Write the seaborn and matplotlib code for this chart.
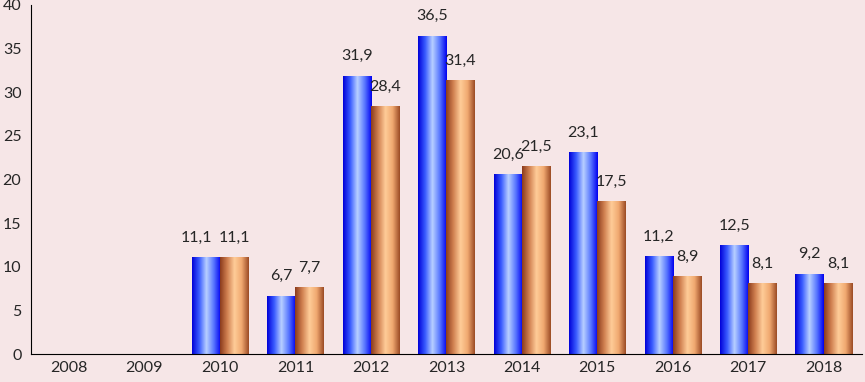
import numpy as np
import pandas as pd
import matplotlib
matplotlib.use('Agg')
import matplotlib.pyplot as plt
from matplotlib.colors import LinearSegmentedColormap
import seaborn as sns

# Данные
years = ['2008', '2009', '2010', '2011', '2012', '2013', '2014', '2015', '2016', '2017', '2018']
series1 = [np.nan, np.nan, 11.1, 6.7, 31.9, 36.5, 20.6, 23.1, 11.2, 12.5, 9.2]
series2 = [np.nan, np.nan, 11.1, 7.7, 28.4, 31.4, 21.5, 17.5, 8.9, 8.1, 8.1]
series_names = ['Ряд 1', 'Ряд 2']

df = pd.DataFrame({
    'year': years * 2,
    'series': [series_names[0]] * len(years) + [series_names[1]] * len(years),
    'value': series1 + series2,
})

bg = '#f6e6e7'
sns.set_style('white')
plt.rcParams['font.family'] = ['Lato', 'DejaVu Sans']

fig = plt.figure(figsize=(8.65, 3.82), dpi=100, facecolor=bg)
ax = fig.add_axes([0.036, 0.073, 0.96, 0.914])
ax.set_facecolor(bg)

sns.barplot(data=df, x='year', y='value', hue='series', ax=ax, width=0.75,
            palette=['#0000ff', '#c06030'], legend=False, saturation=1)

# Градиентная заливка столбцов
cmaps = [
    LinearSegmentedColormap.from_list('b', ['#0000d8', '#3a5cff', '#b8d0ff', '#5a78ff', '#0000f0']),
    LinearSegmentedColormap.from_list('o', ['#8a3a1c', '#d08050', '#ffcc98', '#f0a870', '#9a4a24']),
]
grad = np.linspace(0, 1, 256).reshape(1, -1)
all_labels = []
for cont, cmap in zip(ax.containers, cmaps):
    for p in cont.patches:
        h = p.get_height()
        if np.isnan(h) or h == 0:
            continue
        x0, w = p.get_x(), p.get_width()
        im = ax.imshow(grad, cmap=cmap, aspect='auto', extent=[x0, x0 + w, 0, h], zorder=2)
        im.set_clip_path(p)
        p.set_facecolor('none')
        p.set_edgecolor('none')
    labels = [f'{v:.1f}'.replace('.', ',') for v in cont.datavalues]
    all_labels.append(ax.bar_label(cont, labels=labels, padding=9, fontsize=11.5))

# подпись 2010 (синий) сдвинута влево, чтобы не налезала
# (seaborn пропускает NaN, поэтому первый столбец контейнера - 2010)
all_labels[0][0].xyann = (-7, 9)

ax.set_xlim(-0.5, len(years) - 0.5)
ax.set_ylim(0, 40)
ax.set_yticks(range(0, 41, 5))
ax.set_xticks(np.arange(len(years)))
ax.set_xticklabels(years)
ax.set_xticks(np.arange(-0.5, len(years)), minor=True)
ax.tick_params(axis='x', which='major', length=0, labelsize=11.5, pad=5)
ax.tick_params(axis='x', which='minor', length=3, direction='out', width=0.8)
ax.tick_params(axis='y', length=4, direction='out', labelsize=11.5, width=0.8, pad=3)
ax.set_xlabel('')
ax.set_ylabel('')
for s in ['top', 'right']:
    ax.spines[s].set_visible(False)
for s in ['left', 'bottom']:
    ax.spines[s].set_color('black')
    ax.spines[s].set_linewidth(0.8)

fig.savefig('out.png', dpi=100, facecolor=bg)
